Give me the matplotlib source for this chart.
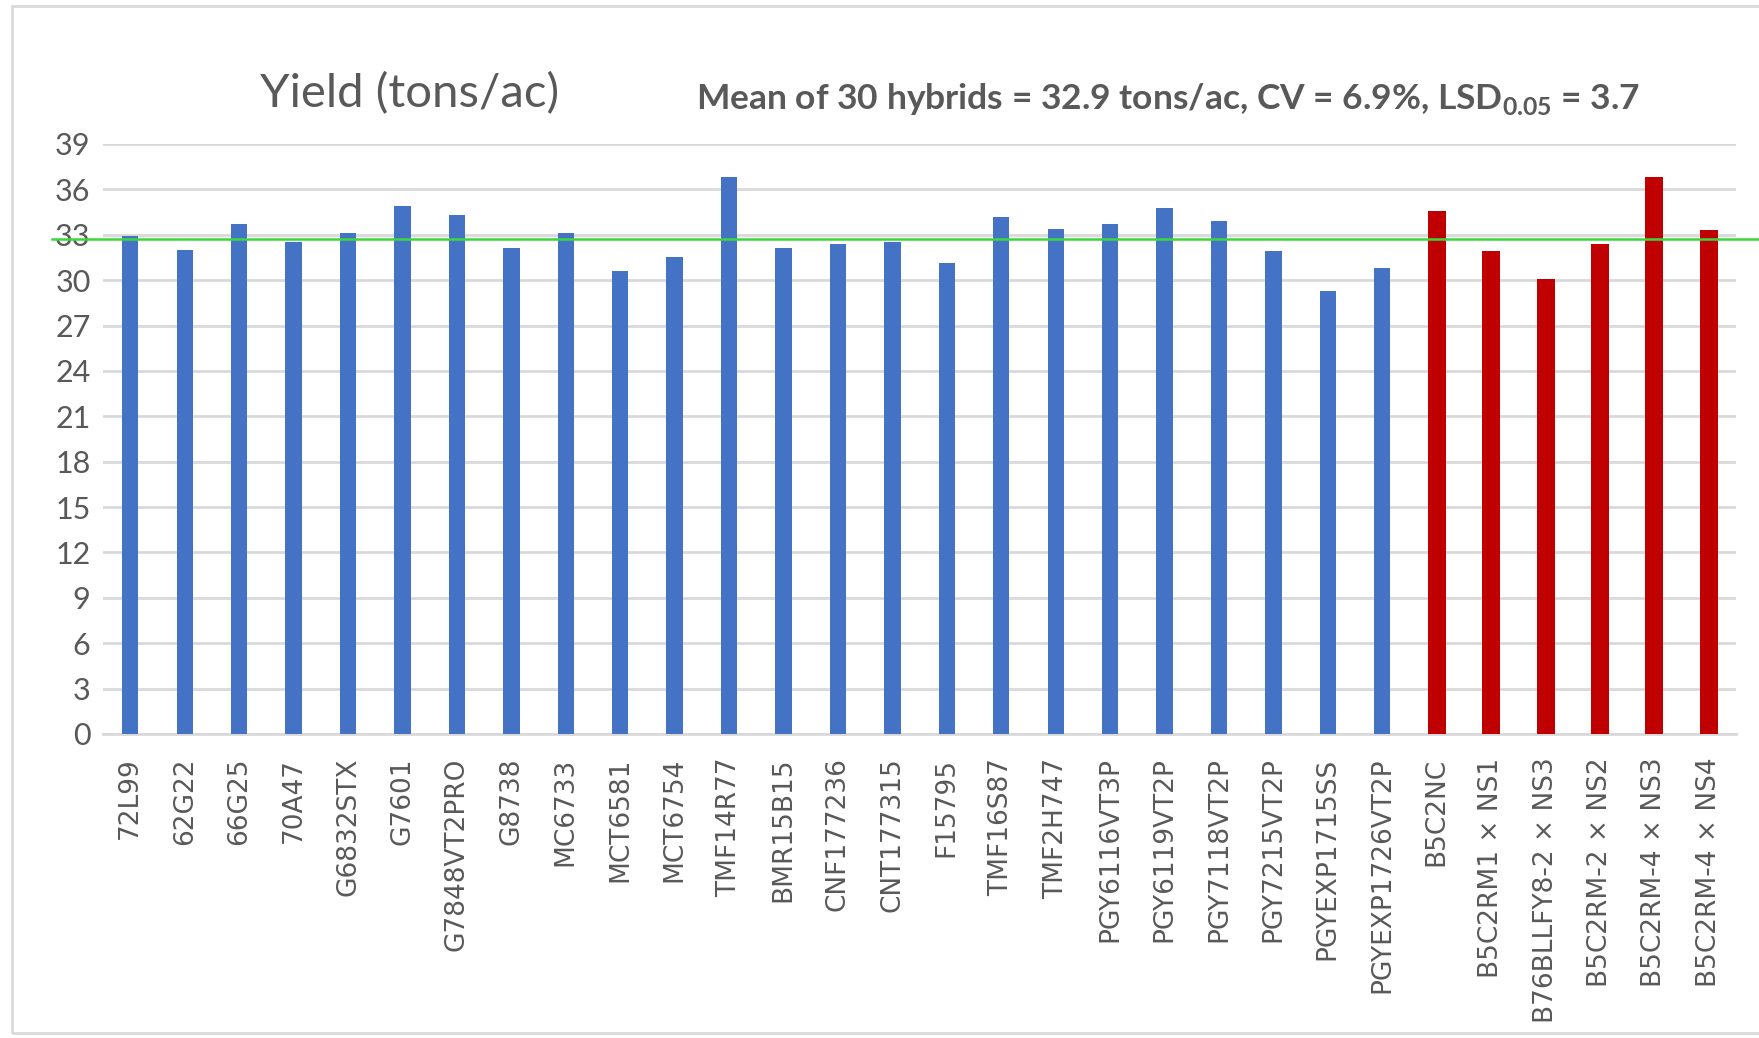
import matplotlib
matplotlib.use('Agg')
import matplotlib.pyplot as plt
from matplotlib.patches import Rectangle

# hybrids and yields (tons/ac)
hybrids = ['72L99', '62G22', '66G25', '70A47', 'G6832STX', 'G7601', 'G7848VT2PRO',
           'G8738', 'MC6733', 'MCT6581', 'MCT6754', 'TMF14R77', 'BMR15B15',
           'CNF177236', 'CNT177315', 'F15795', 'TMF16S87', 'TMF2H747',
           'PGY6116VT3P', 'PGY6119VT2P', 'PGY7118VT2P', 'PGY7215VT2P',
           'PGYEXP1715SS', 'PGYEXP1726VT2P']
checks = ['B5C2NC', 'B5C2RM1 \u00d7 NS1', 'B76BLLFY8-2 \u00d7 NS3', 'B5C2RM-2 \u00d7 NS2',
          'B5C2RM-4 \u00d7 NS3', 'B5C2RM-4 \u00d7 NS4']
hybrid_yield = [32.9, 32.0, 33.7, 32.5, 33.1, 34.9, 34.3, 32.1, 33.1, 30.6, 31.5, 36.8,
                32.1, 32.4, 32.5, 31.1, 34.2, 33.4, 33.7, 34.8, 33.9, 31.9, 29.3, 30.8]
check_yield = [34.6, 31.9, 30.1, 32.4, 36.8, 33.3]
mean_line = 32.7
yticks = list(range(0, 40, 3))

title = 'Yield (tons/ac)'
subtitle = r'Mean of 30 hybrids = 32.9 tons/ac, CV = 6.9%, LSD$_{\mathbf{0.05}}$ = 3.7'

# colours
blue = '#4472C4'
red = '#C00000'
grey_txt = '#595959'
grid_col = '#d9d9d9'

plt.rcParams['mathtext.fontset'] = 'custom'
plt.rcParams['mathtext.rm'] = 'Lato'
plt.rcParams['mathtext.bf'] = 'Lato:bold'

fig = plt.figure(figsize=(17.59, 10.38), dpi=100)
ax = fig.add_axes([0.0586, 0.2929, 0.9284, 0.5684])

labels = hybrids + checks
n1 = len(hybrids)
x1 = list(range(n1))
x2 = list(range(n1, n1 + len(checks)))
ax.bar(x1, hybrid_yield, width=0.30, color=blue, zorder=3)
ax.bar(x2, check_yield, width=0.33, color=red, zorder=3)

ax.set_xlim(-0.5, len(labels) - 0.5)
ax.set_ylim(0, 39)
ax.set_yticks(yticks)
ax.set_yticklabels([str(t) for t in yticks], fontfamily='Lato', fontsize=22, color=grey_txt)
ax.set_xticks(range(len(labels)))
ax.set_xticklabels(labels, rotation=90, fontfamily='DejaVu Sans', fontsize=19, color=grey_txt)
ax.tick_params(axis='both', length=0)
ax.tick_params(axis='x', pad=17)
ax.tick_params(axis='y', pad=9)
ax.grid(axis='y', color=grid_col, linewidth=2, zorder=0)
for s in ['top', 'right', 'left']:
    ax.spines[s].set_visible(False)
ax.spines['bottom'].set_color(grid_col)
ax.spines['bottom'].set_linewidth(2)

# mean line, runs past the plot area to the right edge
ax.axhline(mean_line, xmin=-0.031, xmax=1.03, color='#3ad83a', linewidth=1.8,
           clip_on=False, zorder=4)

# titles
fig.text(410 / 1759, 1 - 94 / 1038, title, fontfamily='Lato', fontsize=34,
         color=grey_txt, ha='center', va='center')
fig.text(696 / 1759, 1 - 99 / 1038, subtitle, fontfamily='Lato', fontweight='bold',
         fontsize=25.5, color=grey_txt, ha='left', va='center')

# light chart border
fig.patches.append(Rectangle((12 / 1759, 5 / 1038), 1.0, 1 - 11 / 1038,
                             transform=fig.transFigure, fill=False,
                             edgecolor=grid_col, linewidth=2))

fig.savefig('out.png', dpi=100)
